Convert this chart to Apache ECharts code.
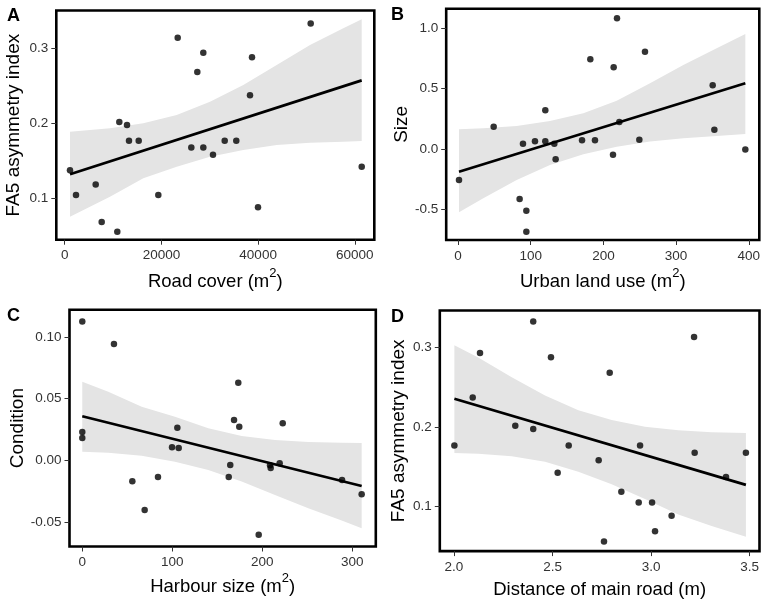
<!DOCTYPE html>
<html>
<head>
<meta charset="utf-8">
<script src="https://cdn.jsdelivr.net/npm/echarts@6/dist/echarts.min.js"></script>
<style>
html,body{margin:0;padding:0;background:#fff;}
#chart{width:768px;height:606px;}
</style>
</head>
<body>
<div id="chart"></div>
<script>
// ---------- Panel A: Road cover vs FA5 asymmetry index ----------
const aX = [1096, 2337, 6411, 7651, 10878, 11291, 12884, 13297, 15303, 19356, 23368, 26181, 27422, 28663, 28663, 30668, 33088, 35486, 38320, 38734, 39975, 50873, 61420];
const aY = [0.138, 0.105, 0.119, 0.069, 0.056, 0.202, 0.198, 0.177, 0.177, 0.105, 0.314, 0.168, 0.2685, 0.294, 0.168, 0.1585, 0.177, 0.177, 0.2375, 0.288, 0.0886, 0.333, 0.1426];
const aLineX = [1096, 61420];
const aLineY = [0.1325, 0.2574];
const aBandX = [1096, 9368, 16255, 23161, 30048, 36935, 43842, 50729, 57615, 61420];
const aBandUp = [0.189, 0.1936, 0.2003, 0.2113, 0.229, 0.2512, 0.2778, 0.3044, 0.3266, 0.3386];
const aBandLo = [0.0761, 0.1027, 0.1271, 0.1426, 0.1559, 0.1648, 0.1714, 0.1745, 0.1758, 0.1767];
const aXTicks = [0, 20000, 40000, 60000];
const aXLabels = ['0', '20000', '40000', '60000'];
const aYTicks = [0.1, 0.2, 0.3];
const aYLabels = ['0.1', '0.2', '0.3'];

// ---------- Panel B: Urban land use vs Size ----------
const bX = [1.4, 49.1, 84.8, 89.4, 94, 94, 105.9, 120.1, 120.1, 132.5, 134.3, 170.6, 182, 188.4, 213.2, 214.1, 218.7, 221.9, 249.4, 257.2, 350.3, 352.6, 395.2];
const bY = [-0.257, 0.185, -0.414, 0.044, -0.511, -0.685, 0.0635, 0.32, 0.0635, 0.044, -0.086, 0.072, 0.743, 0.072, -0.047, 0.677, 1.083, 0.224, 0.077, 0.806, 0.528, 0.160, -0.005];
const bLineX = [1.4, 395.2];
const bLineY = [-0.188, 0.544];
const bBandX = [1.4, 34.8, 80.7, 126.5, 172.4, 218.3, 264.1, 309.9, 355.8, 395.2];
const bBandUp = [0.163, 0.171, 0.1906, 0.232, 0.296, 0.4, 0.544, 0.696, 0.834, 0.953];
const bBandLo = [-0.525, -0.409, -0.257, -0.133, -0.044, 0.019, 0.061, 0.088, 0.108, 0.124];
const bXTicks = [0, 100, 200, 300, 400];
const bXLabels = ['0', '100', '200', '300', '400'];
const bYTicks = [-0.5, 0, 0.5, 1.0];
const bYLabels = ['-0.5', '0.0', '0.5', '1.0'];

// ---------- Panel C: Harbour size vs Condition ----------
const cX = [0, 35.2, 0, 0, 55.6, 69.3, 84.1, 99.7, 105.6, 107.1, 162.7, 164.4, 168.6, 173.3, 174.4, 196, 208.6, 209.3, 219.3, 222.7, 288.6, 310.4];
const cY = [0.1126, 0.0942, 0.0229, 0.0181, -0.017, -0.0403, -0.0135, 0.0105, 0.0264, 0.010, -0.0135, -0.0038, 0.0327, 0.0629, 0.0272, -0.0603, -0.0041, -0.0062, -0.0024, 0.030, -0.016, -0.0276];
const cLineX = [0, 310.4];
const cLineY = [0.0357, -0.0208];
const cBandX = [0, 28.9, 66, 103, 140, 177.1, 214.1, 251.1, 288.2, 310.4];
const cBandUp = [0.0637, 0.0556, 0.0434, 0.0353, 0.0259, 0.0197, 0.0165, 0.0148, 0.0143, 0.014];
const cBandLo = [0.007, 0.0062, 0.0037, -0.0011, -0.0079, -0.0173, -0.0281, -0.0389, -0.0489, -0.0551];
const cXTicks = [0, 100, 200, 300];
const cXLabels = ['0', '100', '200', '300'];
const cYTicks = [-0.05, 0, 0.05, 0.10];
const cYLabels = ['-0.05', '0.00', '0.05', '0.10'];

// ---------- Panel D: Distance of main road vs FA5 asymmetry index ----------
const dX = [2.002, 2.095, 2.132, 2.311, 2.402, 2.402, 2.492, 2.526, 2.582, 2.734, 2.761, 2.790, 2.849, 2.937, 2.944, 3.005, 3.020, 3.104, 3.218, 3.221, 3.380, 3.481];
const dY = [0.1768, 0.2373, 0.2933, 0.2017, 0.3331, 0.1975, 0.2879, 0.1423, 0.1768, 0.1581, 0.0556, 0.2684, 0.1183, 0.1046, 0.1768, 0.1046, 0.0685, 0.0880, 0.3137, 0.1676, 0.137, 0.1676];
const dLineX = [2.002, 3.481];
const dLineY = [0.2357, 0.127];
const dBandX = [2.002, 2.123, 2.293, 2.462, 2.631, 2.800, 2.969, 3.138, 3.307, 3.481];
const dBandUp = [0.3032, 0.2876, 0.2627, 0.2398, 0.2211, 0.2087, 0.2004, 0.1958, 0.1933, 0.1925];
const dBandLo = [0.1672, 0.1663, 0.1631, 0.156, 0.1436, 0.1278, 0.1091, 0.0897, 0.0751, 0.0614];
const dXTicks = [2.0, 2.5, 3.0, 3.5];
const dXLabels = ['2.0', '2.5', '3.0', '3.5'];
const dYTicks = [0.1, 0.2, 0.3];
const dYLabels = ['0.1', '0.2', '0.3'];

const panelLetters = ['A', 'B', 'C', 'D'];
const xTitles = ['Road cover (m{sup|2})', 'Urban land use (m{sup|2})', 'Harbour size (m{sup|2})', 'Distance of main road (m)'];
const yTitles = ['FA5 asymmetry index', 'Size', 'Condition', 'FA5 asymmetry index'];

// ---------- layout (pixels) ----------
const FONT = 'Liberation Sans, Arial, sans-serif';
const grids = [
  {left: 56.3, top: 10.5, width: 318, height: 229.2},
  {left: 446.2, top: 8.7, width: 313.1, height: 231.3},
  {left: 69.5, top: 309.8, width: 306.3, height: 236.7},
  {left: 439.8, top: 310.5, width: 319.7, height: 244}
];
const xRanges = [[-1737, 64025], [-16.2, 414.4], [-14.2, 326.1], [1.928, 3.550]];
const yRanges = [[0.0455, 0.3503], [-0.754, 1.162], [-0.0699, 0.122], [0.0434, 0.347]];
const xNameGaps = [27, 27, 25, 23];
const yNameGaps = [33, 35, 41, 32];
const letterPos = [[7, 7], [391, 6], [7, 307], [391, 308]];

const panels = [
  {x: aX, y: aY, lx: aLineX, ly: aLineY, bx: aBandX, bu: aBandUp, bl: aBandLo, xt: aXTicks, xl: aXLabels, yt: aYTicks, yl: aYLabels},
  {x: bX, y: bY, lx: bLineX, ly: bLineY, bx: bBandX, bu: bBandUp, bl: bBandLo, xt: bXTicks, xl: bXLabels, yt: bYTicks, yl: bYLabels},
  {x: cX, y: cY, lx: cLineX, ly: cLineY, bx: cBandX, bu: cBandUp, bl: cBandLo, xt: cXTicks, xl: cXLabels, yt: cYTicks, yl: cYLabels},
  {x: dX, y: dY, lx: dLineX, ly: dLineY, bx: dBandX, bu: dBandUp, bl: dBandLo, xt: dXTicks, xl: dXLabels, yt: dYTicks, yl: dYLabels}
];

function labelFor(ticks, labels) {
  return function (v) {
    for (let i = 0; i < ticks.length; i++) {
      if (Math.abs(ticks[i] - v) < 1e-9) return labels[i];
    }
    return '';
  };
}

const option = {
  animation: false,
  backgroundColor: '#ffffff',
  title: panelLetters.map((t, i) => ({
    text: t, left: letterPos[i][0], top: letterPos[i][1], padding: 0,
    textStyle: {fontFamily: FONT, fontSize: 18, fontWeight: 'bold', color: '#000'}
  })),
  grid: grids.map(g => Object.assign({show: true, borderColor: '#000', borderWidth: 2.6, backgroundColor: 'transparent', containLabel: false}, g)),
  xAxis: panels.map((p, i) => ({
    type: 'value', gridIndex: i, min: xRanges[i][0], max: xRanges[i][1], position: 'bottom',
    splitLine: {show: false},
    axisLine: {show: false, onZero: false},
    axisTick: {show: true, length: 5, customValues: p.xt, lineStyle: {color: '#333', width: 1}},
    axisLabel: {show: true, customValues: p.xt, formatter: labelFor(p.xt, p.xl), margin: 9, fontFamily: FONT, fontSize: 13.5, color: '#333'},
    name: xTitles[i], nameLocation: 'middle', nameGap: xNameGaps[i],
    nameTextStyle: {fontFamily: FONT, fontSize: 18.5, color: '#000', lineHeight: 30,
      rich: {sup: {fontFamily: FONT, fontSize: 13, color: '#000', verticalAlign: 'top', lineHeight: 30}}}
  })),
  yAxis: panels.map((p, i) => ({
    type: 'value', gridIndex: i, min: yRanges[i][0], max: yRanges[i][1], position: 'left',
    splitLine: {show: false},
    axisLine: {show: false, onZero: false},
    axisTick: {show: true, length: 5, customValues: p.yt, lineStyle: {color: '#333', width: 1}},
    axisLabel: {show: true, customValues: p.yt, formatter: labelFor(p.yt, p.yl), margin: 8, fontFamily: FONT, fontSize: 13.5, color: '#333'},
    name: yTitles[i], nameLocation: 'middle', nameGap: yNameGaps[i],
    nameTextStyle: {fontFamily: FONT, fontSize: 19, color: '#000'}
  })),
  series: []
};

panels.forEach((p, i) => {
  const bandRows = p.bx.map((x, k) => [x, p.bu[k], p.bl[k]]);
  option.series.push({
    type: 'custom', xAxisIndex: i, yAxisIndex: i, clip: true, z: 1,
    data: bandRows,
    encode: {x: 0, y: [1, 2]},
    renderItem: function (params, api) {
      if (params.dataIndex !== 0) return null;
      const pts = [];
      bandRows.forEach(r => pts.push(api.coord([r[0], r[1]])));
      for (let k = bandRows.length - 1; k >= 0; k--) pts.push(api.coord([bandRows[k][0], bandRows[k][2]]));
      return {type: 'polygon', shape: {points: pts}, style: {fill: '#e4e4e4', stroke: null}};
    },
    silent: true
  });
  option.series.push({
    type: 'line', xAxisIndex: i, yAxisIndex: i, z: 3,
    data: p.lx.map((x, k) => [x, p.ly[k]]),
    showSymbol: false, symbol: 'none',
    lineStyle: {color: '#000', width: 2.7}, silent: true
  });
  option.series.push({
    type: 'scatter', xAxisIndex: i, yAxisIndex: i, z: 4,
    data: p.x.map((x, k) => [x, p.y[k]]),
    symbol: 'circle', symbolSize: 6.5,
    itemStyle: {color: '#000'}, silent: true
  });
});

const chart = echarts.init(document.getElementById('chart'), null, {renderer: 'canvas'});
chart.setOption(option);
</script>
</body>
</html>
